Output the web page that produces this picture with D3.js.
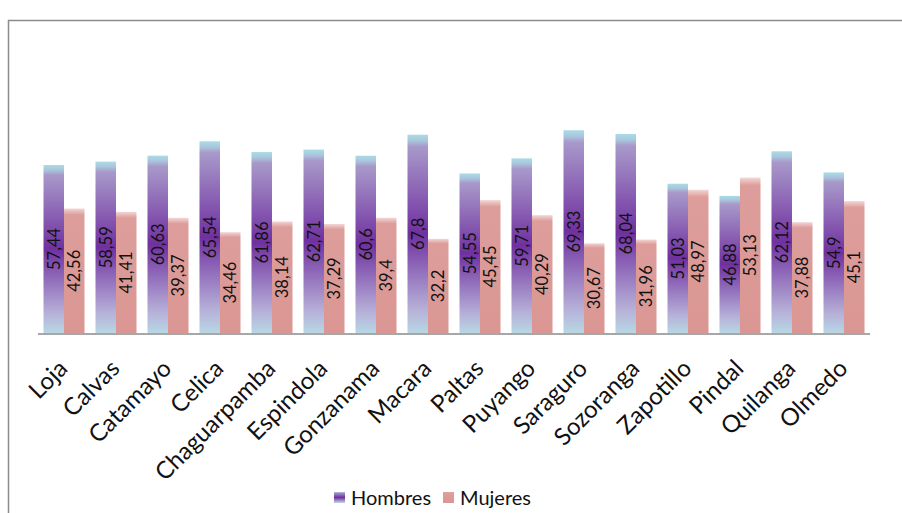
<!DOCTYPE html>
<html lang="es">
<head>
    <meta charset="UTF-8">
    <title>Hombres / Mujeres</title>
    <script src="https://d3js.org/d3.v7.min.js"></script>
    <style>
        body { margin: 0; background: #fff; }
        text { font-family: Lato, 'Open Sans', sans-serif; fill: #111; }
    </style>
</head>
<body>

<script>
    const width  = 902;
    const height = 513;

    const categories = ["Loja", "Calvas", "Catamayo", "Celica", "Chaguarpamba", "Espindola",
                        "Gonzanama", "Macara", "Paltas", "Puyango", "Saraguro", "Sozoranga",
                        "Zapotillo", "Pindal", "Quilanga", "Olmedo"];
    const series   = ["Hombres", "Mujeres"];
    const hombres  = [57.44, 58.59, 60.63, 65.54, 61.86, 62.71, 60.6, 67.8,
                      54.55, 59.71, 69.33, 68.04, 51.03, 46.88, 62.12, 54.9];
    const mujeres  = [42.56, 41.41, 39.37, 34.46, 38.14, 37.29, 39.4, 32.2,
                      45.45, 40.29, 30.67, 31.96, 48.97, 53.13, 37.88, 45.1];

    const rows = categories.map((c, i) => ({cat: c, values: [hombres[i], mujeres[i]]}));

    const axisY = 333;

    const x0 = d3.scaleBand().domain(categories).range([38, 870]);
    const x1 = d3.scaleBand().domain(series).range([5.5, x0.bandwidth() - 5.5]);
    const y  = d3.scaleLinear().domain([0, 80]).range([axisY, 99]);

    const svg = d3.select("body").append("svg")
                  .attr("width", width).attr("height", height);

    // gradients
    const defs = svg.append("defs");
    const gH = defs.append("linearGradient").attr("id", "gH")
                   .attr("x1", 0).attr("y1", 0).attr("x2", 0).attr("y2", 1);
    [[0, "#a9dce6"], [0.03, "#a9c6dd"], [0.06, "#a899ca"], [0.5, "#7030a0"],
     [0.88, "#b6b0d8"], [1, "#b8d7e4"]]
        .forEach(s => gH.append("stop").attr("offset", s[0]).attr("stop-color", s[1]));

    const gM = defs.append("linearGradient").attr("id", "gM")
                   .attr("x1", 0).attr("y1", 0).attr("x2", 0).attr("y2", 1);
    [[0, "#f3d6d6"], [0.05, "#dd9e9b"], [1, "#da9693"]]
        .forEach(s => gM.append("stop").attr("offset", s[0]).attr("stop-color", s[1]));

    const fills = {Hombres: "url(#gH)", Mujeres: "url(#gM)"};

    // outer frame
    svg.append("rect")
       .attr("x", 8.5).attr("y", 20.5).attr("width", 1000).attr("height", 1000)
       .attr("fill", "none").attr("stroke", "#8c8c8c").attr("stroke-width", 1.5);

    const groups = svg.selectAll("g.cat").data(rows).enter()
                      .append("g").attr("class", "cat")
                      .attr("transform", d => "translate(" + x0(d.cat) + ",0)");

    const bars = groups.selectAll("g.bar")
                       .data(d => d.values.map((v, k) => ({key: series[k], value: v})))
                       .enter().append("g").attr("class", "bar");

    bars.append("rect")
        .attr("x", d => x1(d.key))
        .attr("width", x1.bandwidth())
        .attr("y", d => y(d.value))
        .attr("height", d => axisY - y(d.value))
        .attr("fill", d => fills[d.key]);

    bars.append("text")
        .attr("transform", d => "translate(" + (x1(d.key) + x1.bandwidth() / 2) + ","
                                 + ((y(d.value) + axisY) / 2) + ") rotate(-90)")
        .attr("text-anchor", "middle")
        .attr("dy", "0.36em")
        .style("font-size", "16.5px")
        .text(d => String(d.value).replace(".", ","));

    // category axis
    svg.append("line")
       .attr("x1", 38).attr("x2", 870).attr("y1", axisY + 1).attr("y2", axisY + 1)
       .attr("stroke", "#8a8a8a").attr("stroke-width", 1.6);

    svg.selectAll("text.cat").data(categories).enter()
       .append("text").attr("class", "cat")
       .attr("transform", d => "translate(" + (x0(d) + x0.bandwidth() / 2 + 5) + ","
                                + (axisY + 37) + ") rotate(-45)")
       .attr("text-anchor", "end")
       .style("font-size", "24px")
       .text(d => d);

    // legend
    const legendX = [334, 443];
    const legend = svg.selectAll("g.legend").data(series).enter()
                      .append("g").attr("class", "legend")
                      .attr("transform", (d, i) => "translate(" + legendX[i] + ",492)");

    legend.append("rect")
          .attr("width", 11).attr("height", 11)
          .attr("fill", d => fills[d]);

    legend.append("text")
          .attr("x", 17).attr("y", 13)
          .style("font-size", "20px")
          .text(d => d);
</script>

</body>
</html>
